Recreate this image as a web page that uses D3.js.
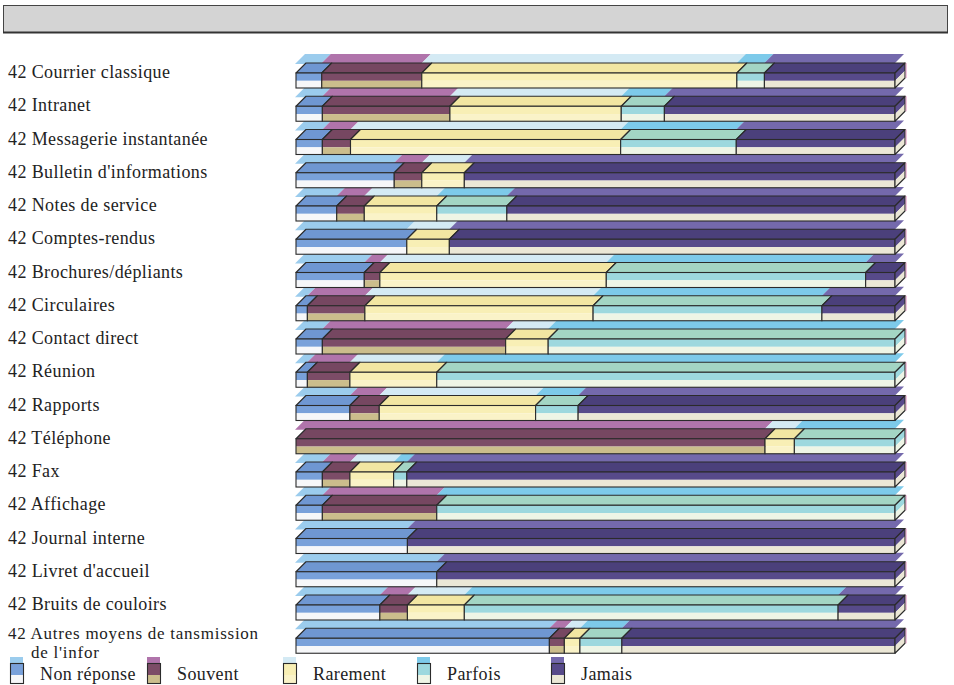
<!DOCTYPE html>
<html>
<head>
<meta charset="utf-8">
<script src="https://cdn.jsdelivr.net/npm/d3@7"></script>
<style>
  html, body { margin: 0; padding: 0; background: #ffffff; }
  svg { display: block; }
  text { font-family: "Liberation Serif", "DejaVu Serif", serif; fill: #222; letter-spacing: 0.4px; }
</style>
</head>
<body>
<svg id="chart" width="954" height="685"></svg>
<script>
// Moyens de communication : répartition des réponses (en %)
const categories = [
  "Courrier classique", "Intranet", "Messagerie instantanée", "Bulletin d'informations",
  "Notes de service", "Comptes-rendus", "Brochures/dépliants", "Circulaires",
  "Contact direct", "Réunion", "Rapports", "Téléphone", "Fax", "Affichage",
  "Journal interne", "Livret d'accueil", "Bruits de couloirs",
  "Autres moyens de tansmission de l'infor"
];
const seriesNames = ["Non réponse", "Souvent", "Rarement", "Parfois", "Jamais"];

const nonReponse = [4.3, 4.4, 4.4, 16.4, 6.8, 18.5, 11.4, 1.9, 4.4, 1.9, 9.0, 0, 4.4, 4.4, 18.6, 23.5, 14.0, 42.3];
const souvent    = [16.7, 21.3, 4.7, 4.6, 4.6, 0, 2.6, 9.6, 30.6, 7.1, 4.9, 78.3, 4.6, 19.1, 0, 0, 4.6, 2.5];
const rarement   = [52.6, 28.6, 45.1, 7.1, 12.1, 7.1, 37.8, 38.1, 7.1, 14.5, 26.1, 4.9, 7.3, 0, 0, 0, 9.5, 2.6];
const parfois    = [4.6, 7.2, 19.3, 0, 11.7, 0, 43.3, 38.2, 57.9, 76.5, 7.1, 16.8, 2.2, 76.5, 0, 0, 62.4, 7.0];
const jamais     = [21.8, 38.5, 26.5, 71.9, 64.8, 74.4, 4.9, 12.2, 0, 0, 52.9, 0, 81.5, 0, 81.4, 76.5, 9.5, 45.6];

// Shades for each series: offset print tint, top face, front face, lower front band
const palette = {
  "Non réponse": { ghost: "#8ac3ea", top: "#6f97d2", front: "#79a1da", low: "#f6f7f9" },
  "Souvent":     { ghost: "#a25c9c", top: "#764761", front: "#7c4c67", low: "#cbbd8c" },
  "Rarement":    { ghost: "#cde6f2", top: "#f2e6a2", front: "#f8efb5", low: "#faf3c8" },
  "Parfois":     { ghost: "#66c1e6", top: "#a3d5c4", front: "#9dd8de", low: "#eef5e6" },
  "Jamais":      { ghost: "#5c4f9e", top: "#4b407b", front: "#574a8a", low: "#ebe7d6" }
};

const rows = categories.map((c, i) => {
  const vals = [nonReponse[i], souvent[i], rarement[i], parfois[i], jamais[i]];
  const o = { cat: c };
  seriesNames.forEach((s, k) => o[s] = vals[k]);
  return o;
});
const stacked = d3.stack().keys(seriesNames)(rows);

const svg = d3.select("#chart");
const x = d3.scaleLinear().domain([0, 100]).range([296, 895]);
const y = d3.scalePoint().domain(categories).range([73, 638.25]);

const H = 15;        // front face height
const DX = 10;       // depth, horizontal
const DY = 10;       // depth, vertical
const STROKE = "#2b2b2b";

// Title box
svg.append("rect")
  .attr("x", 3.5).attr("y", 5.5).attr("width", 944).attr("height", 27)
  .attr("fill", "#d4d4d4").attr("stroke", "#444").attr("stroke-width", 1);
svg.append("line")
  .attr("x1", 3).attr("x2", 948).attr("y1", 32.5).attr("y2", 32.5)
  .attr("stroke", "#333").attr("stroke-width", 2);

// Category labels
const labels = svg.append("g");
categories.forEach((c, i) => {
  const fy = y(c);
  if (c.startsWith("Autres")) {
    labels.append("text").attr("x", 8).attr("y", fy + 0.5).attr("font-size", 17)
      .style("letter-spacing", "0.75px").text("42 Autres moyens de tansmission");
    labels.append("text").attr("x", 31).attr("y", fy + 19.5).attr("font-size", 17)
      .style("letter-spacing", "0.75px").text("de l'infor");
  } else {
    labels.append("text").attr("x", 8).attr("y", fy + 5).attr("font-size", 18)
      .text("42 " + c);
  }
});

const poly = pts => pts.map(p => p.join(",")).join(" ");

// Segments of each bar
const segs = [];
rows.forEach((r, i) => {
  stacked.forEach(layer => {
    const d = layer[i];
    if (d[1] - d[0] > 0) segs.push({ cat: r.cat, key: layer.key, x0: x(d[0]), x1: x(d[1]), end: d[1] });
  });
});

// Offset tint behind the top faces
const ghostG = svg.append("g");
segs.forEach(s => {
  const fy = y(s.cat) - 9, a = s.x0 - 1, b = s.x1 - 1;
  ghostG.append("polygon")
    .attr("points", poly([[a, fy], [b, fy], [b + DX, fy - DY], [a + DX, fy - DY]]))
    .attr("fill", palette[s.key].ghost).attr("opacity", 0.85);
});

const barsG = svg.append("g");
segs.forEach(s => {
  const fy = y(s.cat), c = palette[s.key], a = s.x0, b = s.x1;
  const g = barsG.append("g");
  // top face
  g.append("polygon")
    .attr("points", poly([[a, fy], [b, fy], [b + DX, fy - DY], [a + DX, fy - DY]]))
    .attr("fill", c.top).attr("stroke", STROKE).attr("stroke-width", 1.1)
    .attr("stroke-linejoin", "round");
  // front face, colored upper band and pale lower band
  g.append("rect").attr("x", a).attr("y", fy).attr("width", b - a).attr("height", H * 0.52)
    .attr("fill", c.front);
  g.append("rect").attr("x", a).attr("y", fy + H * 0.52).attr("width", b - a).attr("height", H * 0.48)
    .attr("fill", c.low);
  g.append("rect").attr("x", a).attr("y", fy).attr("width", b - a).attr("height", H)
    .attr("fill", "none").attr("stroke", STROKE).attr("stroke-width", 1.1);
  // right side face on the last segment
  if (s.end >= 99.95) {
    const m = H * 0.52;
    g.append("polygon")
      .attr("points", poly([[b, fy], [b + DX, fy - DY], [b + DX, fy - DY + m], [b, fy + m]]))
      .attr("fill", c.front);
    g.append("polygon")
      .attr("points", poly([[b, fy + m], [b + DX, fy - DY + m], [b + DX, fy - DY + H], [b, fy + H]]))
      .attr("fill", c.low);
    g.append("polygon")
      .attr("points", poly([[b, fy], [b + DX, fy - DY], [b + DX, fy - DY + H], [b, fy + H]]))
      .attr("fill", "none").attr("stroke", STROKE).attr("stroke-width", 1.1)
      .attr("stroke-linejoin", "round");
    g.append("line")
      .attr("x1", b + DX + 1.2).attr("x2", b + DX + 1.2)
      .attr("y1", fy - DY).attr("y2", fy - DY + H)
      .attr("stroke", "#e070b0").attr("stroke-width", 1).attr("opacity", 0.6);
  }
});

// Legend
const legendX = [10, 147, 283, 417, 551];
const legend = svg.append("g");
seriesNames.forEach((s, k) => {
  const c = palette[s], lx = legendX[k], ly = 663, w = 13, h = 20;
  legend.append("rect").attr("x", lx).attr("y", ly - 6).attr("width", w).attr("height", 8)
    .attr("fill", c.ghost).attr("opacity", 0.85);
  legend.append("rect").attr("x", lx).attr("y", ly).attr("width", w).attr("height", h * 0.6)
    .attr("fill", c.front);
  legend.append("rect").attr("x", lx).attr("y", ly + h * 0.6).attr("width", w).attr("height", h * 0.4)
    .attr("fill", c.low);
  legend.append("rect").attr("x", lx + 0.5).attr("y", ly + 0.5).attr("width", w).attr("height", h)
    .attr("fill", "none").attr("stroke", STROKE).attr("stroke-width", 1.1);
  legend.append("text").attr("x", lx + 30).attr("y", 680).attr("font-size", 18).text(s);
});
</script>
</body>
</html>
